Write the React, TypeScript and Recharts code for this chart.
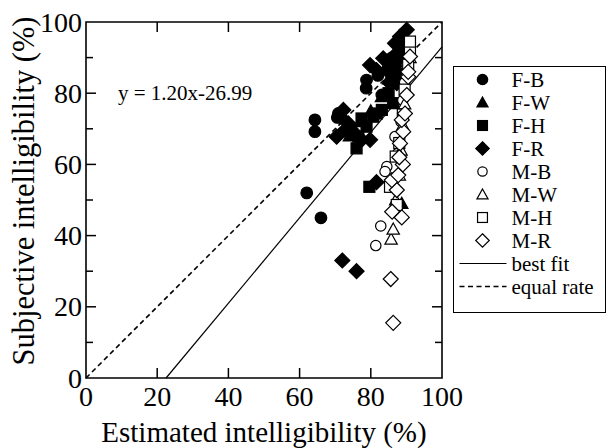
import { ScatterChart, Scatter, XAxis, YAxis, ReferenceArea, ReferenceDot, Legend } from 'recharts'

// Subjective vs estimated intelligibility, per talker (F/M) and noise (B/W/H/R)
const FONT = "'Liberation Serif', 'Times New Roman', serif"
const txt = { fontFamily: FONT }

const xTicks = [0, 20, 40, 60, 80, 100]
const yTicks = [0, 10, 20, 30, 40, 50, 60, 70, 80, 90, 100]

const fitSlope = 1.2
const fitIntercept = -26.99

type Pt = { x: number; y: number }

const fB: Pt[] = [
  { x: 62, y: 52 }, { x: 66, y: 45 }, { x: 64.3, y: 72.5 }, { x: 64.3, y: 69.2 },
  { x: 70.9, y: 74.3 }, { x: 70.6, y: 73.2 }, { x: 78.8, y: 83.7 }, { x: 78.7, y: 81.4 },
  { x: 83.1, y: 79.5 }, { x: 82, y: 85 }, { x: 85, y: 88 }, { x: 86, y: 90 },
]
const fW: Pt[] = [
  { x: 74, y: 68 }, { x: 77, y: 72 }, { x: 80, y: 75 }, { x: 83, y: 79 },
  { x: 85, y: 84 }, { x: 87, y: 88 }, { x: 88.5, y: 92 }, { x: 89.5, y: 95 },
  { x: 88.7, y: 49 },
]
const fH: Pt[] = [
  { x: 76, y: 64.5 }, { x: 76.5, y: 67.8 }, { x: 77.4, y: 72.9 }, { x: 80.7, y: 73.4 },
  { x: 83.1, y: 75.3 }, { x: 86.3, y: 77.2 }, { x: 78.8, y: 70.6 }, { x: 81.7, y: 74.3 },
  { x: 79.6, y: 53.7 }, { x: 85, y: 80 }, { x: 87, y: 85 }, { x: 88, y: 89 }, { x: 89.5, y: 93 },
]
const fR: Pt[] = [
  { x: 72, y: 33 }, { x: 76, y: 30 }, { x: 81.6, y: 55 }, { x: 72.3, y: 75.3 },
  { x: 71.4, y: 73.4 }, { x: 70.4, y: 67.8 }, { x: 73.7, y: 71.5 }, { x: 75.1, y: 69.2 },
  { x: 77.4, y: 66.9 }, { x: 79.8, y: 66.9 }, { x: 72.8, y: 69.7 }, { x: 79.8, y: 87.9 },
  { x: 83.5, y: 89.8 }, { x: 86.8, y: 94 }, { x: 90.1, y: 97.8 }, { x: 81.6, y: 86.5 },
  { x: 84.5, y: 86.5 }, { x: 87.3, y: 91.2 }, { x: 88.2, y: 95.9 }, { x: 85.4, y: 82.8 },
  { x: 87.3, y: 82.8 },
]
const mB: Pt[] = [
  { x: 81.4, y: 37.2 }, { x: 82.8, y: 42.7 }, { x: 84.5, y: 59.4 }, { x: 84, y: 58 },
  { x: 86.8, y: 67.8 }, { x: 87.5, y: 63 }, { x: 88.5, y: 72 }, { x: 89, y: 78 },
  { x: 89.5, y: 83 }, { x: 90, y: 88 },
]
const mW: Pt[] = [
  { x: 85.7, y: 39 }, { x: 86.3, y: 41.8 }, { x: 87, y: 50 }, { x: 88, y: 57 },
  { x: 88.5, y: 64 }, { x: 89, y: 71 }, { x: 89.5, y: 77 }, { x: 90, y: 86 }, { x: 91, y: 90 },
]
const mH: Pt[] = [
  { x: 85.4, y: 53.7 }, { x: 87.3, y: 48.6 }, { x: 87, y: 62.2 }, { x: 88, y: 66 },
  { x: 89, y: 74 }, { x: 89.5, y: 81 }, { x: 90.5, y: 88 }, { x: 91, y: 92.6 }, { x: 91, y: 94.5 },
]
const mR: Pt[] = [
  { x: 86.3, y: 15.5 }, { x: 85.6, y: 27.8 }, { x: 86, y: 46.7 }, { x: 88.7, y: 45.1 },
  { x: 87.3, y: 52.8 }, { x: 85.9, y: 55.6 }, { x: 87.7, y: 57 }, { x: 88.2, y: 65.9 },
  { x: 89.1, y: 69.2 }, { x: 88.7, y: 72.5 }, { x: 89.6, y: 74.3 }, { x: 90.1, y: 79.5 },
  { x: 90.5, y: 84.6 }, { x: 90.5, y: 86 }, { x: 91, y: 90.3 }, { x: 89, y: 60 }, { x: 88, y: 62 },
]

const series = [
  { name: 'F-B', data: fB, kind: 'circle', filled: true },
  { name: 'F-W', data: fW, kind: 'triangle', filled: true },
  { name: 'F-H', data: fH, kind: 'square', filled: true },
  { name: 'F-R', data: fR, kind: 'diamond', filled: true },
  { name: 'M-B', data: mB, kind: 'circle', filled: false },
  { name: 'M-W', data: mW, kind: 'triangle', filled: false },
  { name: 'M-H', data: mH, kind: 'square', filled: false },
  { name: 'M-R', data: mR, kind: 'diamond', filled: false },
]

const fitLine: Pt[] = [
  { x: -fitIntercept / fitSlope, y: 0 },
  { x: 100, y: fitSlope * 100 + fitIntercept },
]
const equalLine: Pt[] = [{ x: 0, y: 0 }, { x: 100, y: 100 }]

const W = 608
const H = 448
// plot box: x 86..442, y 22..378 (axes take 1px each)
const M = { top: 22, right: 166, bottom: 69, left: 85 }
const L = 86
const R = W - M.right
const T = M.top
const B = 378

function Marker({ kind, filled, cx, cy, s = 1 }: { kind: string; filled: boolean; cx: number; cy: number; s?: number }) {
  const p = { fill: filled ? '#000' : '#fff', stroke: '#000', strokeWidth: 1.2 }
  if (kind === 'circle') return <circle cx={cx} cy={cy} r={(filled ? 5.8 : 5.2) * s} {...p} />
  if (kind === 'triangle') {
    const a = 6.2 * s
    return <path d={`M${cx},${cy - a}L${cx + a},${cy + a * 0.8}L${cx - a},${cy + a * 0.8}Z`} {...p} />
  }
  if (kind === 'square') {
    const a = 5.5 * s
    return <rect x={cx - a} y={cy - a} width={2 * a} height={2 * a} {...p} />
  }
  const a = 7.5 * s
  return <path d={`M${cx},${cy - a}L${cx + a},${cy}L${cx},${cy + a}L${cx - a},${cy}Z`} {...p} />
}

function XTick(props: any) {
  const { x, payload } = props
  const v = payload.value
  return (
    <g>
      {v > 0 && v < 100 && (
        <>
          <line x1={x} x2={x} y1={B} y2={B - 10} stroke="#000" strokeWidth={1.5} />
          <line x1={x} x2={x} y1={T} y2={T + 10} stroke="#000" strokeWidth={1.5} />
        </>
      )}
      <text x={x} y={B + 28} textAnchor="middle" fontSize={28} style={txt} fill="#000">{v}</text>
    </g>
  )
}

function YTick(props: any) {
  const { y, payload } = props
  const v = payload.value
  const major = v % 20 === 0
  const len = major ? 10 : 7
  return (
    <g>
      {v > 0 && v < 100 && (
        <>
          <line x1={L} x2={L + len} y1={y} y2={y} stroke="#000" strokeWidth={1.5} />
          <line x1={R} x2={R - len} y1={y} y2={y} stroke="#000" strokeWidth={1.5} />
        </>
      )}
      {major && (
        <text x={L - 4} y={y + 9.5} textAnchor="end" fontSize={28} style={txt} fill="#000">{v}</text>
      )}
    </g>
  )
}

function LegendBox() {
  const rowY = (i: number) => 12.5 + 23 * i
  return (
    <div style={{ width: 153, height: 247, border: '1.5px solid #000', boxSizing: 'border-box', background: '#fff' }}>
      <svg width={150} height={244} style={{ display: 'block' }}>
        {series.map((s, i) => (
          <g key={s.name}>
            <Marker kind={s.kind} filled={s.filled} cx={28.5} cy={rowY(i)} s={0.9} />
            <text x={57.5} y={rowY(i) + 7} fontSize={21} style={txt} fill="#000">{s.name}</text>
          </g>
        ))}
        <line x1={5.5} x2={52.5} y1={rowY(8)} y2={rowY(8)} stroke="#000" strokeWidth={1.2} />
        <text x={57.5} y={rowY(8) + 7} fontSize={21} style={txt} fill="#000">best fit</text>
        <line x1={5.5} x2={52.5} y1={rowY(9)} y2={rowY(9)} stroke="#000" strokeWidth={1.5} strokeDasharray="5 3.5" />
        <text x={57.5} y={rowY(9) + 7} fontSize={21} style={txt} fill="#000">equal rate</text>
      </svg>
    </div>
  )
}

export default function App() {
  const yMid = (T + B) / 2 - 9
  return (
    <div style={{ width: W, height: H, fontFamily: FONT }}>
      <style>{'body{margin:0}'}</style>
      <ScatterChart width={W} height={H} margin={M} style={txt}>
        <XAxis type="number" dataKey="x" domain={[0, 100]} ticks={xTicks} height={1}
          axisLine={false} tickLine={false} tick={XTick} interval={0}
          label={{
            content: () => (
              <text x={(L + R) / 2} y={B + 64} textAnchor="middle" fontSize={29} style={txt} fill="#000">
                Estimated intelligibility (%)
              </text>
            ),
          }} />
        <YAxis type="number" dataKey="y" domain={[0, 100]} ticks={yTicks} width={1}
          axisLine={false} tickLine={false} tick={YTick} interval={0}
          label={{
            content: () => (
              <text x={34} y={yMid} transform={`rotate(-90 34 ${yMid})`} textAnchor="middle"
                fontSize={30.5} style={txt} fill="#000">
                Subjective intelligibility (%)
              </text>
            ),
          }} />
        <ReferenceArea x1={0} x2={100} y1={0} y2={100} fill="none" stroke="#000" strokeWidth={1.6} fillOpacity={0} />
        <Scatter name="equal rate" data={equalLine} line={{ stroke: '#000', strokeWidth: 1.6, strokeDasharray: '5 3.5' }}
          shape={() => <g />} isAnimationActive={false} />
        <Scatter name="best fit" data={fitLine} line={{ stroke: '#000', strokeWidth: 1.2 }}
          shape={() => <g />} isAnimationActive={false} />
        {series.map((s) => (
          <Scatter key={s.name} name={s.name} data={s.data} isAnimationActive={false}
            shape={(p: any) => <Marker kind={s.kind} filled={s.filled} cx={p.cx} cy={p.cy} />} />
        ))}
        <ReferenceDot x={9} y={80} r={0} fill="none" stroke="none"
          label={{
            content: (p: any) => (
              <text x={p.viewBox.x} y={p.viewBox.y + 7} fontSize={21} style={txt} fill="#000">
                {`y = ${fitSlope.toFixed(2)}x${fitIntercept.toFixed(2)}`}
              </text>
            ),
          }} />
        <Legend layout="horizontal" verticalAlign="middle" align="center" content={() => <LegendBox />}
          wrapperStyle={{ left: 453, top: 66, width: 153, height: 247 }} />
      </ScatterChart>
    </div>
  )
}
